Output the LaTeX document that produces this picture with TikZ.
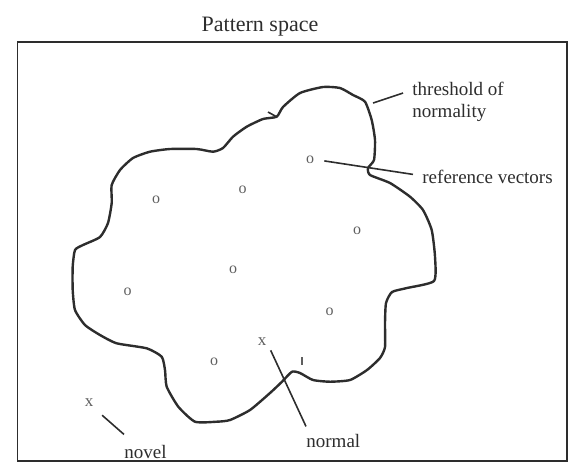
\documentclass[tikz,border=0pt]{standalone}
\usepackage{fontspec}
\setmainfont{Liberation Serif}
\usepackage{xcolor}
\usepackage{tikz}
\usetikzlibrary{positioning,calc}
\definecolor{inkgray}{RGB}{45,45,45}
\definecolor{pencilgray}{RGB}{95,95,95}

\begin{document}
\begin{tikzpicture}[x=0.5pt, y=-0.5pt,
    frame/.style={draw=inkgray, line width=0.9pt},
    boundary/.style={draw=inkgray, line width=1.2pt, line join=round},
    leader/.style={draw=inkgray, line width=0.8pt},
    label/.style={font=\fontsize{9.5}{11}\selectfont, text=inkgray, inner sep=0pt},
    refvec/.style={font=\fontsize{8}{9}\selectfont, text=pencilgray, inner sep=2pt},
    sample/.style={font=\fontsize{8.5}{9}\selectfont, text=pencilgray, inner sep=2pt}]

\useasboundingbox (0,0) rectangle (571,462);

\node[font=\fontsize{11}{13}\selectfont, text=inkgray, anchor=base] (title) at (260,31.7) {Pattern space};
\draw[frame] (17.5,41.7) rectangle (567,461);

% threshold of normality
\draw[boundary] plot[smooth cycle, tension=0.35] coordinates {
    (111.7,185) (120,170) (133,158) (150,151.7) (170,149) (196.7,149)
    (213,151.7) (223,148) (233,136.7) (246.7,126.7) (263,119) (276.7,116.7)
    (283,107) (300,93) (323,87) (340,88) (353,95) (365,101.7) (371.7,120)
    (375,140) (374,160) (368,168) (370,175) (390,183) (410,196.7) (423,210)
    (431.7,230) (435,256.7) (434,281) (407,288) (392,292) (386,303) (385,323)
    (385,347) (380,358) (367,370) (350,380) (330,381.7) (313,380) (300,373)
    (292,371.7) (282,381.7) (270,393) (250,410) (230,420) (216.7,421.7)
    (195,421.7) (178.3,406.7) (166.7,386.7) (165,370) (161.7,356.7)
    (146.7,348.3) (116.7,343.3) (100,335) (85,325) (75,310) (72.7,290)
    (72.7,266.7) (75,250) (83,245) (100,237) (108,223) (111.7,203)};
\draw[boundary, line width=0.8pt] (268,112) -- (277,117);
\draw[draw=pencilgray, line width=0.6pt] (302,357) -- (302,365);

\foreach \px/\py [count=\i] in {310/160, 156/200, 242.7/190, 357/231,
    233/270, 127.5/291.7, 329.5/311.7, 214/361.7}
    \node[refvec] (o\i) at (\px,\py) {o};

\node[sample] (xnorm) at (262,342) {x};
\node[sample] (xnov) at (89,403) {x};

\node[label, anchor=north west, align=left] (thrlab) at (412,82) {threshold of\\normality};
\node[label, anchor=base west] (reflab) at (422,183) {reference vectors};
\node[label, anchor=base west] (normlab) at (306,447) {normal};
\node[label, anchor=base west] (novlab) at (124,458) {novel};

\coordinate (thrpt) at (373,103);
\draw[leader] (thrpt) -- ([xshift=-4.5pt, yshift=-5.5pt]thrlab.north west);
\draw[leader, shorten <=3pt] (o1.east) -- ([xshift=-4.5pt, yshift=1pt]reflab.west);
\draw[leader] (xnorm.south east) -- ([yshift=3.5pt]normlab.north west);
\draw[leader, shorten <=3pt] (xnov.south east) -- ([yshift=5pt]novlab.north west);

\end{tikzpicture}
\end{document}
